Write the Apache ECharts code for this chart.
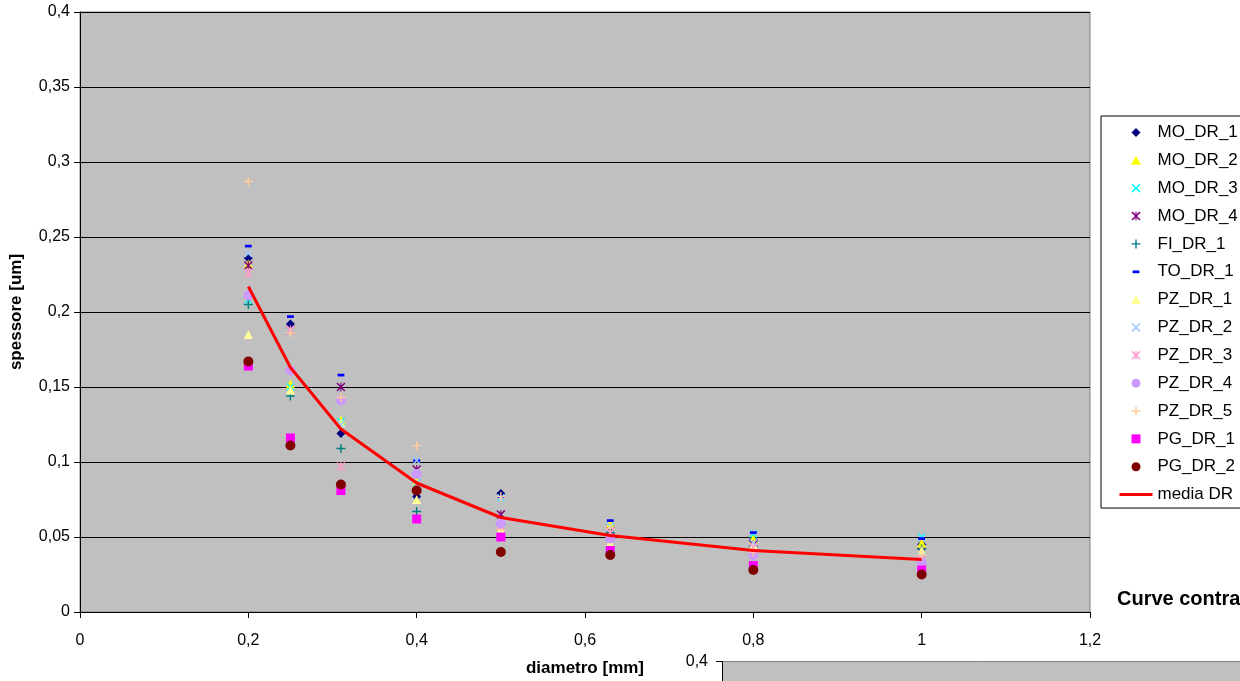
<!DOCTYPE html>
<html>
<head>
<meta charset="utf-8">
<script src="https://cdn.jsdelivr.net/npm/echarts@6/dist/echarts.min.js"></script>
<style>
html,body{margin:0;padding:0;background:#fff;}
#chart{width:1240px;height:681px;}
</style>
</head>
<body>
<div id="chart"></div>
<script>
// ---- data ----
const diameters = [0.2, 0.25, 0.31, 0.4, 0.5, 0.63, 0.8, 1.0];
const MO_DR_1 = [0.236, 0.192, 0.119, 0.077, 0.079, 0.056, 0.048, 0.045];
const MO_DR_2 = [0.232, 0.152, 0.128, 0.087, 0.057, 0.059, 0.049, 0.046];
const MO_DR_3 = [0.208, 0.150, 0.127, 0.086, 0.076, 0.057, 0.052, 0.050];
const MO_DR_4 = [0.231, 0.188, 0.150, 0.095, 0.065, 0.054, 0.045, 0.040];
const FI_DR_1 = [0.205, 0.144, 0.109, 0.067, 0.058, 0.053, 0.044, 0.042];
const TO_DR_1 = [0.244, 0.197, 0.158, 0.101, 0.077, 0.061, 0.053, 0.049];
const PZ_DR_1 = [0.185, 0.148, 0.126, 0.075, 0.055, 0.046, 0.045, 0.041];
const PZ_DR_2 = [0.239, 0.188, 0.125, 0.101, 0.076, 0.057, 0.046, 0.037];
const PZ_DR_3 = [0.226, 0.188, 0.097, 0.085, 0.057, 0.053, 0.043, 0.035];
const PZ_DR_4 = [0.211, 0.161, 0.141, 0.092, 0.059, 0.049, 0.038, 0.033];
const PZ_DR_5 = [0.287, 0.186, 0.143, 0.111, 0.077, 0.056, 0.040, 0.038];
const PG_DR_1 = [0.164, 0.116, 0.081, 0.062, 0.050, 0.041, 0.031, 0.028];
const PG_DR_2 = [0.167, 0.111, 0.085, 0.081, 0.040, 0.038, 0.028, 0.025];
const mediaDR = [0.217, 0.163, 0.122, 0.086, 0.063, 0.051, 0.041, 0.035];
const xTicks = {min: 0, max: 1.2, interval: 0.2};
const yTicks = {min: 0, max: 0.4, interval: 0.05};

// ---- symbols ----
const SYM = {
  diamond: 'path://M5,0L10,5L5,10L0,5Z',
  triangle: 'path://M5,0.5L10,9.5L0,9.5Z',
  cross: 'path://M0,1.2L1.2,0L10,8.8L8.8,10Z M8.8,0L10,1.2L1.2,10L0,8.8Z',
  star: 'path://M0,1.2L1.2,0L10,8.8L8.8,10Z M8.8,0L10,1.2L1.2,10L0,8.8Z M4.4,0H5.6V10H4.4Z',
  plus: 'path://M4.2,0H5.8V4.2H10V5.8H5.8V10H4.2V5.8H0V4.2H4.2Z',
  dash: 'path://M0,0M10,10M1.2,3.6H8.8V6.6H1.2Z',
  circle: 'path://M5,0A5,5,0,1,1,5,10A5,5,0,1,1,5,0Z',
  square: 'path://M0,0H10V10H0Z'
};

const scatterDefs = [
  ['MO_DR_1', MO_DR_1, SYM.diamond, '#000080', 9],
  ['MO_DR_2', MO_DR_2, SYM.triangle, '#FFFF00', 9],
  ['MO_DR_3', MO_DR_3, SYM.cross, '#00FFFF', 8],
  ['MO_DR_4', MO_DR_4, SYM.star, '#800080', 9],
  ['FI_DR_1', FI_DR_1, SYM.plus, '#008080', 9],
  ['TO_DR_1', TO_DR_1, SYM.dash, '#0000FF', 9],
  ['PZ_DR_1', PZ_DR_1, SYM.triangle, '#FFFF99', 9],
  ['PZ_DR_2', PZ_DR_2, SYM.cross, '#99CCFF', 8],
  ['PZ_DR_3', PZ_DR_3, SYM.star, '#FF99CC', 9],
  ['PZ_DR_4', PZ_DR_4, SYM.circle, '#CC99FF', 10],
  ['PZ_DR_5', PZ_DR_5, SYM.plus, '#FFCC99', 9],
  ['PG_DR_1', PG_DR_1, SYM.square, '#FF00FF', 9],
  ['PG_DR_2', PG_DR_2, SYM.circle, '#800000', 10]
];

const FONT = '"Liberation Sans", Arial, sans-serif';
const fmt = v => (Math.round(v * 100) / 100).toString().replace('.', ',');

const series = scatterDefs.map(d => ({
  name: d[0],
  type: 'scatter',
  data: diameters.map((x, i) => [x, d[1][i]]),
  symbol: d[2],
  symbolSize: d[4],
  itemStyle: {color: d[3], opacity: 1},
  emphasis: {disabled: true},
  animation: false
}));
series.push({
  name: 'media DR',
  type: 'line',
  data: diameters.map((x, i) => [x, mediaDR[i]]),
  symbol: 'none',
  showSymbol: false,
  lineStyle: {color: '#FF0000', width: 3},
  itemStyle: {color: '#FF0000'},
  emphasis: {disabled: true},
  z: 3,
  animation: false
});

const legendData = scatterDefs.map(d => ({name: d[0]}));
legendData.push({
  name: 'media DR',
  itemStyle: {color: 'rgba(0,0,0,0)', borderWidth: 0, opacity: 0},
  lineStyle: {color: '#FF0000', width: 3}
});

const chart = echarts.init(document.getElementById('chart'), null, {renderer: 'canvas'});
chart.setOption({
  animation: false,
  backgroundColor: '#FFFFFF',
  textStyle: {fontFamily: FONT},
  grid: {
    left: 80, right: 150, top: 12, bottom: 69,
    containLabel: false,
    outerBoundsMode: 'none',
    show: true, backgroundColor: '#C0C0C0', borderColor: '#808080', borderWidth: 1
  },
  xAxis: {
    type: 'value',
    min: xTicks.min, max: xTicks.max, interval: xTicks.interval,
    name: 'diametro [mm]',
    nameLocation: 'middle',
    nameGap: 48,
    nameTextStyle: {fontFamily: FONT, fontSize: 17, fontWeight: 'bold', color: '#000'},
    axisLine: {show: true, onZero: false, lineStyle: {color: '#000', width: 1}},
    axisTick: {show: true, inside: false, length: 6, lineStyle: {color: '#000'}},
    axisLabel: {formatter: fmt, fontFamily: FONT, fontSize: 16, color: '#000', margin: 21},
    splitLine: {show: false}
  },
  yAxis: {
    type: 'value',
    min: yTicks.min, max: yTicks.max, interval: yTicks.interval,
    name: 'spessore [um]',
    nameLocation: 'middle',
    nameGap: 55,
    nameRotate: 90,
    nameTextStyle: {fontFamily: FONT, fontSize: 17, fontWeight: 'bold', color: '#000'},
    axisLine: {show: true, onZero: false, lineStyle: {color: '#000', width: 1}},
    axisTick: {show: true, inside: false, length: 6, lineStyle: {color: '#000'}},
    axisLabel: {formatter: fmt, fontFamily: FONT, fontSize: 16, color: '#000', margin: 10},
    splitLine: {show: true, lineStyle: {color: '#000', width: 1}}
  },
  legend: {
    orient: 'vertical',
    left: 1101,
    top: 116,
    itemWidth: 33,
    itemHeight: 9,
    itemGap: 10.85,
    padding: [8, 16, 5, 17],
    borderColor: '#000',
    borderWidth: 1,
    backgroundColor: '#FFFFFF',
    symbolKeepAspect: true,
    selectedMode: false,
    textStyle: {fontFamily: FONT, fontSize: 17, color: '#000'},
    data: legendData
  },
  graphic: [
    {type: 'text', left: 1117, top: 589, silent: true, z: 100,
     style: {text: 'Curve contra', font: 'bold 20px ' + FONT, fill: '#000'}},
    {type: 'rect', left: 722, top: 661, silent: true,
     shape: {width: 620, height: 60}, style: {fill: '#C0C0C0', stroke: '#808080', lineWidth: 1}},
    {type: 'line', silent: true, shape: {x1: 722.5, y1: 661, x2: 722.5, y2: 681}, style: {stroke: '#000', lineWidth: 1}},
    {type: 'line', silent: true, shape: {x1: 716, y1: 661.5, x2: 722, y2: 661.5}, style: {stroke: '#000', lineWidth: 1}},
    {type: 'text', right: 1240 - 708, top: 654, silent: true,
     style: {text: '0,4', font: '16px ' + FONT, fill: '#000'}}
  ],
  series: series
});
</script>
</body>
</html>
